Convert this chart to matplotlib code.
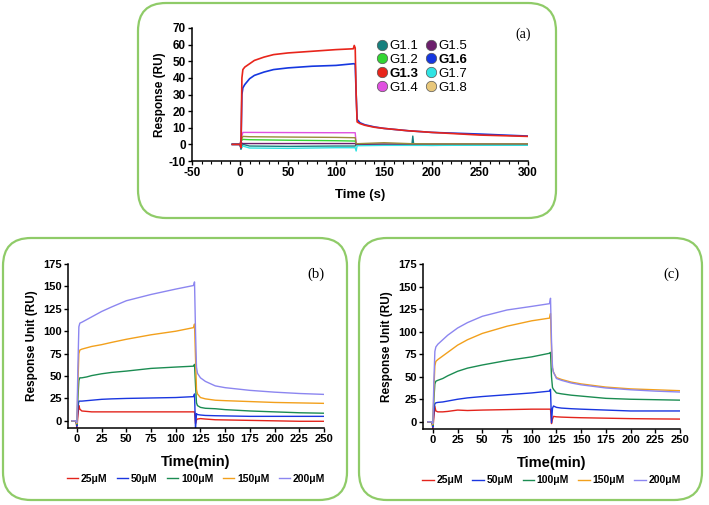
import matplotlib
matplotlib.use("Agg")
import matplotlib.pyplot as plt
from matplotlib.patches import FancyBboxPatch
from matplotlib.lines import Line2D

plt.rcParams["font.family"] = ["Liberation Sans", "DejaVu Sans"]
plt.rcParams["font.weight"] = "bold"
plt.rcParams["axes.unicode_minus"] = False

# ---- panel (a): binding of G1.x peptides, time in seconds ----
ta_big = [-8, 0, 1, 2, 3, 5, 10, 15, 25, 35, 50, 75, 100, 118, 119, 120, 121, 122, 125, 130, 140,
          150, 175, 200, 250, 300]
g13 = [0, 0, -2, 40, 45, 46.5, 48.5, 50.5, 52.5, 54, 55, 56, 57, 57.5, 59.5, 58, 30, 13.5, 12.5, 11.5,
       10.3, 9.6, 8.2, 7.2, 5.6, 4.8]
g16 = [0, 0, -2, 30, 34, 36, 39.5, 41.5, 43.5, 45, 46, 47, 47.5, 48.5, 48.5, 48, 30, 15, 13, 11.8,
       10.5, 9.6, 8.2, 7.2, 6.2, 5.0]

ta_small = [-8, 0, 1, 3, 10, 50, 100, 120, 121, 122, 150, 179, 180, 181, 200, 250, 300]
g11 = [0, 0, -3, 0, -1.0, -1.2, -1.0, -1.0, 0, -0.5, -0.5, -0.5, 5, -0.5, -0.6, -0.4, -0.4]
g12 = [0, 0, 2, 3, 2.8, 2.5, 2.2, 2.0, 0, 0.2, 0.3, 0.2, 0.2, 0.2, 0.2, 0.2, 0.2]
g14 = [0, 0, 3, 7.2, 7.2, 7.1, 7.0, 7.0, 1, 0.3, 0.2, 0.2, 0.2, 0.2, 0.2, 0.2, 0.2]
g15 = [0, 0, 1, 0.5, 0.5, 0.5, 0.5, 0.5, 0, 0.0, 0.0, 0.0, 0.0, 0.0, 0.0, 0.0, 0.0]
g17 = [0, 0, -2, -1, -2.2, -2.4, -2.0, -2.0, -4, -0.8, -0.6, -0.6, -0.6, -0.6, -0.6, -0.5, -0.5]
g18 = [0, 0, 2, 4.8, 4.6, 4.4, 4.2, 4.0, 0.5, 0.4, 1.0, 0.4, 0.4, 0.4, 0.3, 0.3, 0.3]

labels_a = ["G1.1", "G1.2", "G1.3", "G1.4", "G1.5", "G1.6", "G1.7", "G1.8"]
colors_a = ["#17807e", "#33d633", "#e8251b", "#e050e0", "#6b1f6b", "#1537e0", "#2fe3e3", "#e8c77a"]
line_colors_a = ["#17807e", "#33d633", "#e8251b", "#e050e0", "#6b1f6b", "#1537e0", "#2fe3e3", "#9a8a3a"]

# ---- panels (b) and (c): concentration series, time in minutes ----
conc_labels = ["25\u03bcM", "50\u03bcM", "100\u03bcM", "150\u03bcM", "200\u03bcM"]
conc_colors = ["#e3241c", "#1a36e0", "#1b8c52", "#f2a01c", "#8c86f0"]

tb = [-5, -1, 0, 1, 2, 3, 5, 10, 15, 25, 35, 50, 75, 100, 118, 119, 120, 121, 122, 125, 130, 140,
      150, 175, 200, 225, 250]
b_25 = [0, 0, -8, 5, 17, 13, 11, 10.5, 10, 10, 10, 10, 10, 10, 10, 10, -3, 1, 2, 2.5, 2, 1.2,
        1, 0.5, 0, -0.5, -0.5]
b_50 = [0, 0, -6, 15, 22, 22, 22, 22.5, 23, 24, 24.5, 25, 25.5, 26, 27, 30, -9, 8, 7, 6.5, 6, 5.7,
        5.5, 5, 5, 5, 5]
b_100 = [0, 0, -4, 25, 45, 48, 48, 49, 50.5, 52.5, 54, 55.5, 58.5, 60, 61, 63, 40, 20, 17, 15, 14,
         13.5, 12.5, 11, 10, 9, 8.5]
b_150 = [0, 0, -3, 40, 75, 79, 80, 81.5, 83, 85, 87.5, 91, 96, 100, 104, 108, 70, 35, 30, 26, 24.5,
         23, 22.5, 21.5, 20.5, 20, 19.5]
b_200 = [0, 0, -2, 60, 105, 109, 110, 113, 116, 122, 127, 134, 141, 147, 151, 155, 100, 60, 53, 48,
         44, 39, 37, 34, 32, 30.5, 29.5]

tc = [-5, -1, 0, 1, 2, 3, 5, 10, 15, 25, 35, 50, 75, 100, 118, 119, 120, 121, 122, 125, 130, 140,
      150, 175, 200, 225, 250]
c_25 = [0, 0, -8, 5, 17, 12, 11, 11, 11.5, 13, 12.5, 13, 13.5, 14, 14, 14, -2, 3, 6, 5.5, 5.2, 4.8,
        4.5, 4, 3.5, 3.2, 3]
c_50 = [0, 0, -6, 12, 20, 21, 21.5, 22, 23, 25, 26.5, 28, 30, 32, 34, 36, -1, 15, 17.5, 16, 15.2,
        14.5, 14, 13, 12, 12, 12]
c_100 = [0, 0, -4, 25, 42, 45, 46, 48, 51, 56, 59.5, 63, 68, 72, 76, 77, 50, 38, 36, 32, 31, 29.5,
         28.5, 26, 25, 24.5, 24]
c_150 = [0, 0, -3, 35, 62, 67, 69, 73, 77, 85, 91, 98, 106, 112, 115, 120, 80, 60, 55, 49, 47, 44,
         42, 38.5, 36.5, 35.5, 34.5]
c_200 = [0, 0, -2, 45, 78, 83, 86, 91, 96, 104, 110, 117, 124, 128, 131, 137, 90, 60, 55, 48, 46,
         43, 41, 37.5, 35.5, 34, 33]

W, H = 709, 505
fig = plt.figure(figsize=(W / 100, H / 100), dpi=100)


def px_axes(left, top, right, bottom):
    return fig.add_axes([left / W, 1 - bottom / H, (right - left) / W, (bottom - top) / H])


def rounded_box(left, top, right, bottom):
    box = FancyBboxPatch((left / 100, (H - bottom) / 100), (right - left) / 100, (bottom - top) / 100,
                         boxstyle="round,pad=0,rounding_size=0.28", transform=fig.dpi_scale_trans,
                         facecolor="none", edgecolor="#8fcb68", linewidth=1.6, zorder=0)
    fig.patches.append(box)


def style_axes(ax, size=8):
    for side in ["top", "right"]:
        ax.spines[side].set_visible(False)
    for side in ["left", "bottom"]:
        ax.spines[side].set_linewidth(1.1)
    ax.tick_params(direction="out", length=3, width=1, labelsize=size, pad=1.5)
    for lab in ax.get_xticklabels() + ax.get_yticklabels():
        lab.set_fontweight("bold")


rounded_box(138, 3, 556, 218)
rounded_box(3, 238, 347, 500)
rounded_box(359, 238, 702, 500)

# panel (a)
ax = px_axes(192, 28, 528, 161)
small = [g11, g12, None, g14, g15, None, g17, g18]
for i, lab in enumerate(labels_a):
    if small[i] is not None:
        ax.plot(ta_small, small[i], color=line_colors_a[i], lw=1.0)
ax.plot(ta_big, g16, color=colors_a[5], lw=1.2)
ax.plot(ta_big, g13, color=colors_a[2], lw=1.2)
ax.set_xlim(-50, 300)
ax.set_ylim(-10, 70)
ax.set_xticks(range(-50, 301, 50))
ax.set_yticks(range(-10, 71, 10))
ax.set_xticks(range(-50, 301, 10), minor=True)
ax.tick_params(which="minor", direction="out", length=2, width=0.8)
style_axes(ax, 8.5)
ax.set_xlabel("Time (s)", fontsize=9.5, fontweight="bold", labelpad=7)
ax.set_ylabel("Response (RU)", fontsize=8.5, fontweight="bold", labelpad=2)
ax.text(1.01, 1.0, "(a)", transform=ax.transAxes, fontsize=10, family="Liberation Serif",
        fontweight="normal", ha="right", va="top")
handles = [Line2D([], [], ls="none", marker="o", markersize=7.5, markerfacecolor=c,
                  markeredgecolor="#555555", markeredgewidth=0.5) for c in colors_a]
leg = ax.legend(handles, labels_a, ncol=2, loc="upper left", bbox_to_anchor=(0.53, 0.95),
                frameon=False, fontsize=9.5, handletextpad=0.05, columnspacing=0.5,
                labelspacing=0.12, borderaxespad=0, handlelength=1.0)
for i, t in enumerate(leg.get_texts()):
    t.set_fontweight("bold" if labels_a[i] in ("G1.3", "G1.6") else "normal")

# panels (b) and (c)
panels = [
    (px_axes(68, 264, 324, 428), tb, [b_25, b_50, b_100, b_150, b_200], "(b)", -9),
    (px_axes(423, 264, 680, 429), tc, [c_25, c_50, c_100, c_150, c_200], "(c)", -10),
]
for ax, t, series, tag, x0 in panels:
    for vals, col, lab in zip(series, conc_colors, conc_labels):
        ax.plot(t, vals, color=col, lw=1.0, label=lab)
    ax.set_xlim(x0, 250)
    ax.set_ylim(-8, 175)
    ax.set_xticks(range(0, 251, 25))
    ax.set_yticks(range(0, 176, 25))
    style_axes(ax, 8)
    ax.set_xlabel("Time(min)", fontsize=10.5, fontweight="bold", labelpad=8)
    ax.set_ylabel("Response Unit (RU)", fontsize=8.5, fontweight="bold", labelpad=4)
    ax.text(1.0, 0.98, tag, transform=ax.transAxes, fontsize=10.5, family="Liberation Serif",
            fontweight="normal", ha="right", va="top")
    ax.legend(ncol=5, loc="upper center", bbox_to_anchor=(0.5, -0.255), frameon=False,
              handlelength=1.1, handletextpad=0.25, columnspacing=0.9, borderaxespad=0,
              prop={"weight": "bold", "size": 7.5})

fig.savefig("out.png", dpi=100)
